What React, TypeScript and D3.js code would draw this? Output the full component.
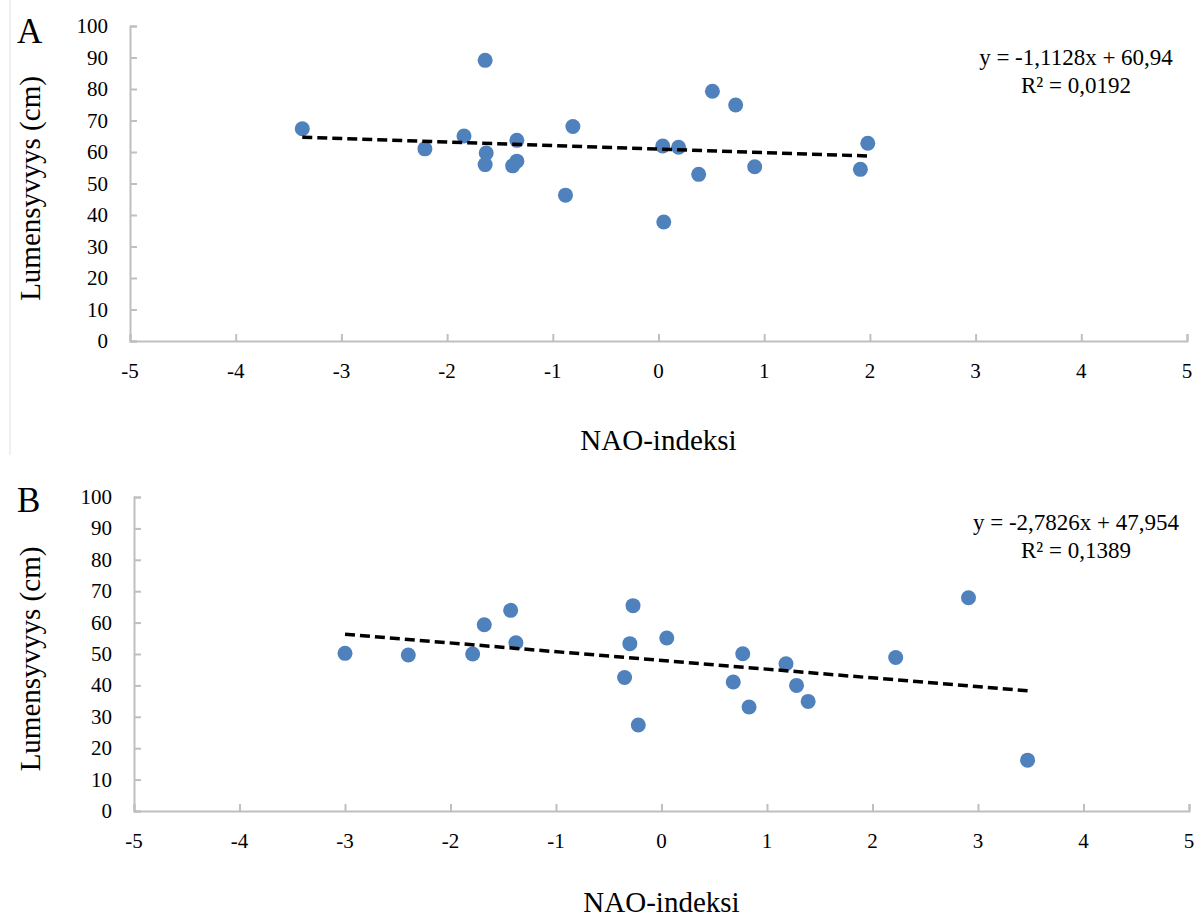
import React, { useEffect, useRef } from 'react';
import * as d3 from 'd3';

const xTicks = [-5, -4, -3, -2, -1, 0, 1, 2, 3, 4, 5];
const yTicks = [0, 10, 20, 30, 40, 50, 60, 70, 80, 90, 100];

// panel A
const naoA = [-3.37, -2.21, -1.84, -1.64, -1.63, -1.64, -1.38, -1.34, -1.34, -0.88, -0.81, 0.04, 0.05, 0.19, 0.38, 0.51, 0.73, 0.91, 1.91, 1.98];
const depthA = [67.4, 61.0, 65.1, 89.1, 59.7, 56.0, 55.6, 57.1, 63.7, 46.3, 68.1, 61.9, 37.8, 61.5, 52.9, 79.3, 74.9, 55.3, 54.5, 62.8];
const fitA = [-1.1128, 60.94]; // slope, intercept
const eqA = ['y = -1,1128x + 60,94', 'R² = 0,0192'];

// panel B
const naoB = [-3.0, -2.4, -1.79, -1.68, -1.43, -1.38, -0.35, -0.3, -0.27, -0.22, 0.05, 0.68, 0.77, 0.83, 1.18, 1.28, 1.39, 2.22, 2.91, 3.47];
const depthB = [50.2, 49.7, 50.0, 59.3, 63.9, 53.6, 42.5, 53.3, 65.4, 27.4, 55.1, 41.1, 50.1, 33.1, 46.9, 40.0, 34.9, 48.9, 67.9, 16.2];
const fitB = [-2.7826, 47.954];
const eqB = ['y = -2,7826x + 47,954', 'R² = 0,1389'];

const xTitle = 'NAO-indeksi';
const yTitle = 'Lumensyvyys (cm)';

const FONT = '"Liberation Serif", "Times New Roman", serif';
const axisColor = '#bfbfbf';
const dotColor = '#4f81bd';

const drawPanel = (svg, opts) => {
  const {
    letter, xs, ys, fit, eq,
    left, right, top, bottom,
    letterY, xTitleY, eqY, eqX,
  } = opts;

  const x = d3.scaleLinear().domain([-5, 5]).range([left, right]);
  const y = d3.scaleLinear().domain([0, 100]).range([bottom, top]);

  const g = svg.append('g').attr('font-family', FONT).attr('fill', '#000');

  // axes (ticks point inward like the Excel original)
  const yAxis = g.append('g').attr('transform', `translate(${left},0)`)
    .call(d3.axisRight(y).tickValues(yTicks).tickSize(7).tickFormat(() => ''));
  const xAxis = g.append('g').attr('transform', `translate(0,${bottom})`)
    .call(d3.axisTop(x).tickValues(xTicks).tickSize(7).tickFormat(() => ''));
  [yAxis, xAxis].forEach((a) => {
    a.selectAll('path,line').attr('stroke', axisColor).attr('stroke-width', 2);
  });

  g.selectAll('.ylab')
    .data(yTicks)
    .join('text')
    .attr('x', left - 22)
    .attr('y', (d) => y(d) + 7)
    .attr('text-anchor', 'end')
    .attr('font-size', 21)
    .text((d) => String(d));

  g.selectAll('.xlab')
    .data(xTicks)
    .join('text')
    .attr('x', (d) => x(d))
    .attr('y', bottom + 37)
    .attr('text-anchor', 'middle')
    .attr('font-size', 21)
    .text((d) => String(d));

  // titles
  g.append('text')
    .attr('x', (left + right) / 2)
    .attr('y', xTitleY)
    .attr('text-anchor', 'middle')
    .attr('font-size', 29)
    .text(xTitle);

  g.append('text')
    .attr('transform', `translate(40,${(top + bottom) / 2 + 5}) rotate(-90)`)
    .attr('text-anchor', 'middle')
    .attr('font-size', 29)
    .text(yTitle);

  g.append('text')
    .attr('x', 17)
    .attr('y', letterY)
    .attr('font-size', 35)
    .text(letter);

  // trendline from min to max x
  const [x0, x1] = d3.extent(xs);
  const line = d3.line().x((d) => x(d)).y((d) => y(fit[0] * d + fit[1]));

  g.selectAll('.dot')
    .data(d3.range(xs.length))
    .join('circle')
    .attr('cx', (i) => x(xs[i]))
    .attr('cy', (i) => y(ys[i]))
    .attr('r', 7.5)
    .attr('fill', dotColor);

  g.append('path')
    .attr('d', line([x0, x1]))
    .attr('fill', 'none')
    .attr('stroke', '#000')
    .attr('stroke-width', 3.5)
    .attr('stroke-dasharray', '10,5');

  // equation label
  g.selectAll('.eq')
    .data(eq)
    .join('text')
    .attr('x', eqX)
    .attr('y', (d, i) => eqY + i * 28)
    .attr('text-anchor', 'middle')
    .attr('font-size', 23)
    .text((d) => d);
};

const App = () => {
  const ref = useRef(null);

  useEffect(() => {
    const svg = d3.select(ref.current);
    svg.selectAll('*').remove();

    svg.append('rect').attr('width', 1195).attr('height', 920).attr('fill', '#fff');
    svg.append('line')
      .attr('x1', 10).attr('x2', 10).attr('y1', 0).attr('y2', 455)
      .attr('stroke', '#f0f0f0').attr('stroke-width', 2);

    drawPanel(svg, {
      letter: 'A', xs: naoA, ys: depthA, fit: fitA, eq: eqA,
      left: 130, right: 1187, top: 26, bottom: 341,
      letterY: 43, xTitleY: 450, eqY: 65, eqX: 1076,
    });
    drawPanel(svg, {
      letter: 'B', xs: naoB, ys: depthB, fit: fitB, eq: eqB,
      left: 134, right: 1189, top: 497, bottom: 811,
      letterY: 512, xTitleY: 912, eqY: 530, eqX: 1076,
    });
  }, []);

  return (
    <svg
      ref={ref}
      width={1195}
      height={920}
      style={{ position: 'absolute', left: 0, top: 0 }}
    />
  );
};

export default App;
